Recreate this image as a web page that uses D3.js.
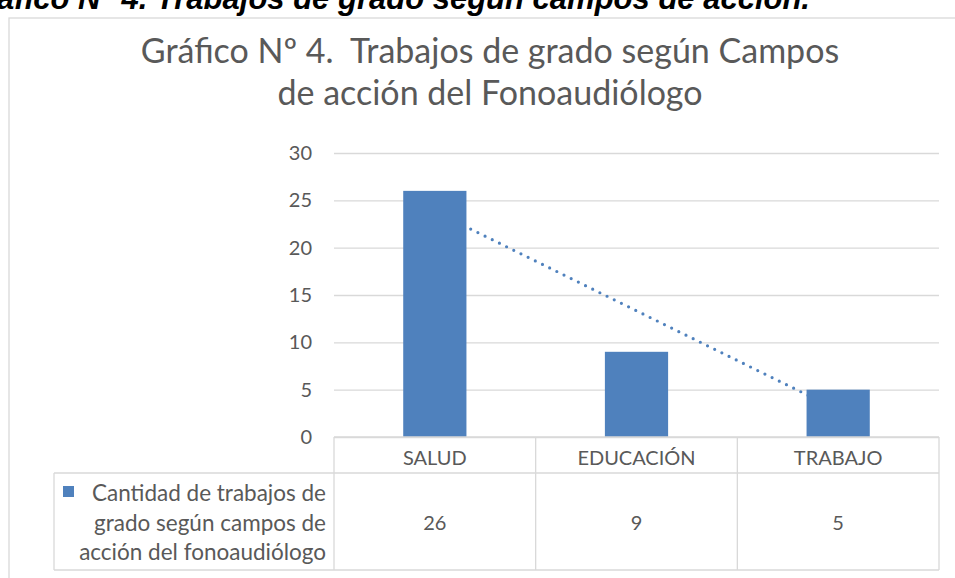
<!DOCTYPE html>
<html lang="es">
<head>
<meta charset="utf-8">
<title>Gráfico Nº 4</title>
<script src="https://cdn.jsdelivr.net/npm/d3@7"></script>
<style>
  body { margin: 0; background: #fff; }
  svg text { font-family: Lato, "Open Sans", sans-serif; fill: #595959; white-space: pre; }
  .heading { font-family: "Liberation Sans", Arial, sans-serif; font-weight: bold; font-style: italic; fill: #000; }
  .grid line { stroke: #d9d9d9; stroke-width: 1.3; }
  .tbl { stroke: #d9d9d9; stroke-width: 1.3; fill: none; }
</style>
</head>
<body>
<script>
// data
const categories = ["SALUD", "EDUCACIÓN", "TRABAJO"];
const values = [26, 9, 5];
const seriesName = ["Cantidad de trabajos de", "grado según campos de", "acción del fonoaudiólogo"];
const yTicks = [0, 5, 10, 15, 20, 25, 30];
const titleLines = ["Gráfico Nº 4.  Trabajos de grado según Campos", "de acción del Fonoaudiólogo"];
const heading = "Gráfico N° 4. Trabajos de grado según campos de acción.";

const w = 955, h = 578;
const plotL = 334, plotR = 939, plotT = 153, plotB = 437;
const rowH = 36, valH = 97, legendLeft = 54;
const barColor = "#4F81BD";

const svg = d3.select("body").append("svg")
  .attr("width", w).attr("height", h);

// cut off heading from the page above
svg.append("text")
  .attr("class", "heading")
  .attr("x", 810).attr("y", 9)
  .attr("text-anchor", "end")
  .style("font-size", "31px")
  .text(heading);

// chart frame (runs off the picture)
svg.append("rect")
  .attr("x", 9).attr("y", 18)
  .attr("width", 1000).attr("height", 1000)
  .attr("fill", "none").attr("stroke", "#d9d9d9").attr("stroke-width", 1.3);

// title
svg.append("text")
  .attr("x", 490).attr("y", 63)
  .attr("text-anchor", "middle")
  .style("font-size", "34px")
  .selectAll("tspan")
  .data(titleLines)
  .enter().append("tspan")
  .attr("x", 490)
  .attr("dy", (d, i) => i ? 42 : 0)
  .text(d => d);

// scales
const x = d3.scaleBand().domain(categories).range([plotL, plotR]);
const y = d3.scaleLinear().domain([0, 30]).range([plotB, plotT]);

// gridlines + tick labels
const yAxis = d3.axisLeft(y)
  .tickValues(yTicks)
  .tickSize(-(plotR - plotL))
  .tickPadding(22);

const gy = svg.append("g")
  .attr("class", "grid")
  .attr("transform", "translate(" + plotL + ",0)")
  .call(yAxis);
gy.select(".domain").remove();
gy.selectAll("text")
  .attr("fill", "#595959")
  .style("font-size", "20px")
  .style("font-family", "Lato, sans-serif");

// linear trendline (least squares on category index), under the bars
const n = values.length;
const xs = d3.range(1, n + 1);
const mx = d3.mean(xs), my = d3.mean(values);
const slope = d3.sum(xs, (xi, i) => (xi - mx) * (values[i] - my)) / d3.sum(xs, xi => (xi - mx) * (xi - mx));
const icpt = my - slope * mx;
const trend = [categories[0], categories[n - 1]].map((c, j) => {
  const xi = j ? n : 1;
  return [x(c) + x.bandwidth() / 2, y(icpt + slope * xi)];
});
svg.append("path")
  .attr("d", d3.line()(trend))
  .attr("fill", "none")
  .attr("stroke", barColor)
  .attr("stroke-width", 3.2)
  .attr("stroke-linecap", "round")
  .attr("stroke-dasharray", "0 8");

// bars, gap width 219%
const barW = x.bandwidth() / (1 + 2.19);
svg.selectAll("rect.bar")
  .data(values)
  .enter().append("rect")
  .attr("class", "bar")
  .attr("x", (d, i) => x(categories[i]) + (x.bandwidth() - barW) / 2)
  .attr("y", d => y(d))
  .attr("width", barW)
  .attr("height", d => y(0) - y(d))
  .attr("fill", barColor);

// data table
const tb = svg.append("g");
const rowY = plotB + rowH, endY = rowY + valH;
tb.append("line").attr("class", "tbl")
  .attr("x1", plotL).attr("x2", plotR).attr("y1", plotB).attr("y2", plotB);
tb.append("line").attr("class", "tbl")
  .attr("x1", legendLeft).attr("x2", plotR).attr("y1", rowY).attr("y2", rowY);
tb.append("line").attr("class", "tbl")
  .attr("x1", legendLeft).attr("x2", plotR).attr("y1", endY).attr("y2", endY);
tb.append("line").attr("class", "tbl")
  .attr("x1", legendLeft).attr("x2", legendLeft).attr("y1", rowY).attr("y2", endY);
tb.selectAll("line.col")
  .data(categories.map(c => x(c)).concat([plotR]))
  .enter().append("line")
  .attr("class", "tbl col")
  .attr("x1", d => d).attr("x2", d => d)
  .attr("y1", plotB).attr("y2", endY);

tb.selectAll("text.cat")
  .data(categories)
  .enter().append("text")
  .attr("class", "cat")
  .attr("x", d => x(d) + x.bandwidth() / 2)
  .attr("y", plotB + 28)
  .attr("text-anchor", "middle")
  .style("font-size", "20px")
  .text(d => d);

tb.selectAll("text.val")
  .data(values)
  .enter().append("text")
  .attr("class", "val")
  .attr("x", (d, i) => x(categories[i]) + x.bandwidth() / 2)
  .attr("y", rowY + 57)
  .attr("text-anchor", "middle")
  .style("font-size", "20px")
  .text(d => d);

// legend cell
tb.append("rect")
  .attr("x", 63).attr("y", rowY + 13)
  .attr("width", 11).attr("height", 11)
  .attr("fill", barColor);
tb.selectAll("text.leg")
  .data(seriesName)
  .enter().append("text")
  .attr("class", "leg")
  .attr("x", 326)
  .attr("y", (d, i) => rowY + 28 + i * 29.5)
  .attr("text-anchor", "end")
  .style("font-size", "22.5px")
  .text(d => d);
</script>
</body>
</html>
